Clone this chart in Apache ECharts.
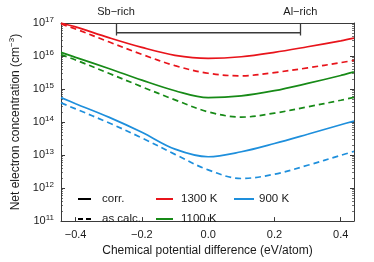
<!DOCTYPE html>
<html><head><meta charset="utf-8">
<script src="https://cdn.jsdelivr.net/npm/echarts@6/dist/echarts.min.js"></script>
<style>html,body{margin:0;padding:0;background:#fff}#c{width:374px;height:262px}</style>
</head><body><div id="c"></div>
<script>
// Chemical potential difference (eV/atom)
const xValues = [-0.444, -0.4, -0.3, -0.2, -0.1, 0, 0.1, 0.2, 0.3, 0.4, 0.44];
// Net electron concentration (cm^-3)
const red_corr   = [1.0e17, 7.6e16, 3.6e16, 1.82e16, 1.05e16, 8.5e15, 9.5e15, 1.29e16, 1.91e16, 2.88e16, 3.47e16];
const red_calc   = [9.3e16, 6.6e16, 2.69e16, 1.12e16, 5.1e15, 3.0e15, 2.51e15, 3.16e15, 4.37e15, 6.3e15, 7.4e15];
const green_corr = [1.29e16, 9.1e15, 4.2e15, 1.86e15, 8.9e14, 5.5e14, 6.2e14, 8.9e14, 1.48e15, 2.57e15, 3.3e15];
const green_calc = [1.10e16, 7.6e15, 3.0e15, 1.17e15, 4.7e14, 2.04e14, 1.41e14, 1.86e14, 2.88e14, 4.57e14, 5.6e14];
const blue_corr  = [5.5e14, 3.6e14, 1.41e14, 4.9e13, 1.51e13, 8.9e12, 1.26e13, 2.24e13, 4.27e13, 8.3e13, 1.07e14];
const blue_calc  = [3.8e14, 2.51e14, 9.5e13, 3.3e13, 1.05e13, 3.55e12, 1.95e12, 2.63e12, 4.9e12, 9.8e12, 1.29e13];

const xTicks = [-0.4, -0.2, 0, 0.2, 0.4];
const yTicks = [1e11, 1e12, 1e13, 1e14, 1e15, 1e16, 1e17];
const regionBounds = [-0.278, 0.278];
const regionLabels = ['Sb\u2212rich', 'Al\u2212rich'];
const regionLevel = 5.1e16;

const seriesNames = ['1300 K', '1100 K', '900 K'];
const styleNames = ['corr.', 'as calc.'];

const RED = '#e8141b', GREEN = '#178a17', BLUE = '#1e8fdc';
const AX = '#3a3a3a', TXT = '#1a1a1a';
const FONT = 'Liberation Sans, Arial, Helvetica, sans-serif';
const DASH = [6, 4];

const yMinor = [];
for (let e = 11; e < 17; e++) for (let m = 2; m <= 9; m++) yMinor.push(m * Math.pow(10, e));

function pairs(ys) { return xValues.map((x, i) => [x, ys[i]]); }
function curve(name, color, ys, dashed) {
  return {
    name: name, type: 'line', data: pairs(ys), smooth: 0.35, symbol: 'none',
    color: color, lineStyle: { color: color, width: 1.7, type: dashed ? DASH : 'solid' },
    emphasis: { disabled: true }, z: 3
  };
}

const xMin = -0.444, xMax = 0.44;
const chart = echarts.init(document.getElementById('c'), null, { renderer: 'canvas' });
const supRich = { s: { fontSize: 8, fontFamily: FONT, color: TXT, padding: [0, 0, 7, 0] } };
const legendBase = { top: 188, orient: 'vertical', itemHeight: 10, itemGap: 8, selectedMode: false,
  itemStyle: { opacity: 0, borderWidth: 0 } };

chart.setOption({
  animation: false,
  backgroundColor: '#fff',
  textStyle: { fontFamily: FONT, color: TXT },
  grid: { left: 58, right: 20, top: 23, bottom: 35.5 },
  legend: [
    Object.assign({ data: styleNames, left: 72, itemWidth: 13,
      textStyle: { fontSize: 11.5, fontFamily: FONT, color: TXT, padding: [0, 0, 0, 6] } }, legendBase),
    Object.assign({ data: seriesNames.slice(0, 2), left: 150, itemWidth: 17,
      textStyle: { fontSize: 11.5, fontFamily: FONT, color: TXT, padding: [0, 0, 0, 3] } }, legendBase),
    Object.assign({ data: seriesNames.slice(2), left: 228, itemWidth: 20,
      textStyle: { fontSize: 11.5, fontFamily: FONT, color: TXT, padding: [0, 0, 0, 0] } }, legendBase)
  ],
  xAxis: [
    { type: 'value', min: xMin, max: xMax, position: 'bottom',
      axisLine: { show: true, onZero: false, lineStyle: { color: AX, width: 1 } },
      axisTick: { show: true, inside: true, length: 4, customValues: xTicks, lineStyle: { color: AX } },
      axisLabel: { customValues: xTicks, fontSize: 11, color: TXT, margin: 8, fontFamily: FONT,
        formatter: v => v.toFixed(1).replace('-', '\u2212') },
      splitLine: { show: false },
      name: 'Chemical potential difference (eV/atom)', nameLocation: 'middle', nameGap: 23,
      nameTextStyle: { fontSize: 12, color: TXT, fontFamily: FONT } },
    { type: 'value', min: xMin, max: xMax, position: 'top',
      axisLine: { show: true, onZero: false, lineStyle: { color: AX, width: 1 } },
      axisTick: { show: true, inside: true, length: 12.5, customValues: regionBounds, lineStyle: { color: AX, width: 1.3 } },
      axisLabel: { customValues: regionBounds, fontSize: 11, color: TXT, margin: 6, fontFamily: FONT,
        formatter: v => (v < 0 ? regionLabels[0] : regionLabels[1]) },
      splitLine: { show: false } }
  ],
  yAxis: [
    { type: 'log', logBase: 10, min: 1e11, max: 1e17, position: 'left',
      axisLine: { show: true, onZero: false, lineStyle: { color: AX, width: 1 } },
      axisTick: { show: true, inside: true, length: 4, customValues: yTicks, lineStyle: { color: AX } },
      axisLabel: { customValues: yTicks, margin: 7,
        formatter: v => '{b|10}{s|' + Math.round(Math.log10(v)) + '}',
        rich: { b: { fontSize: 11, fontFamily: FONT, color: TXT }, s: supRich.s } },
      splitLine: { show: false },
      name: 'Net electron concentration (cm{s|\u22123})', nameLocation: 'middle', nameGap: 38,
      nameTextStyle: { fontSize: 12, color: TXT, fontFamily: FONT, rich: supRich } },
    { type: 'log', logBase: 10, min: 1e11, max: 1e17, position: 'right',
      axisLine: { show: true, onZero: false, lineStyle: { color: AX, width: 1 } },
      axisTick: { show: true, inside: true, length: 4, customValues: yTicks, lineStyle: { color: AX } },
      axisLabel: { show: false }, splitLine: { show: false } },
    { type: 'log', logBase: 10, min: 1e11, max: 1e17, position: 'left',
      axisLine: { show: false, onZero: false }, axisTick: { show: true, inside: true, length: 2, customValues: yMinor, lineStyle: { color: AX, width: 0.7 } },
      axisLabel: { show: false }, splitLine: { show: false } },
    { type: 'log', logBase: 10, min: 1e11, max: 1e17, position: 'right',
      axisLine: { show: false, onZero: false }, axisTick: { show: true, inside: true, length: 2, customValues: yMinor, lineStyle: { color: AX, width: 0.7 } },
      axisLabel: { show: false }, splitLine: { show: false } }
  ],
  series: [
    curve(seriesNames[0], RED, red_corr, false),
    curve(seriesNames[1], GREEN, green_corr, false),
    curve(seriesNames[2], BLUE, blue_corr, false),
    curve(seriesNames[0], RED, red_calc, true),
    curve(seriesNames[1], GREEN, green_calc, true),
    curve(seriesNames[2], BLUE, blue_calc, true),
    { name: styleNames[0], type: 'line', data: [], symbol: 'none', color: '#000', lineStyle: { color: '#000', width: 1.7 } },
    { name: styleNames[1], type: 'line', data: [], symbol: 'none', color: '#000', lineStyle: { color: '#000', width: 1.7, type: [5, 3] } },
    { name: 'range', type: 'line', data: regionBounds.map(x => [x, regionLevel]), symbol: 'none', silent: true,
      color: AX, lineStyle: { color: AX, width: 1.5 }, z: 2 }
  ]
});
</script></body></html>
